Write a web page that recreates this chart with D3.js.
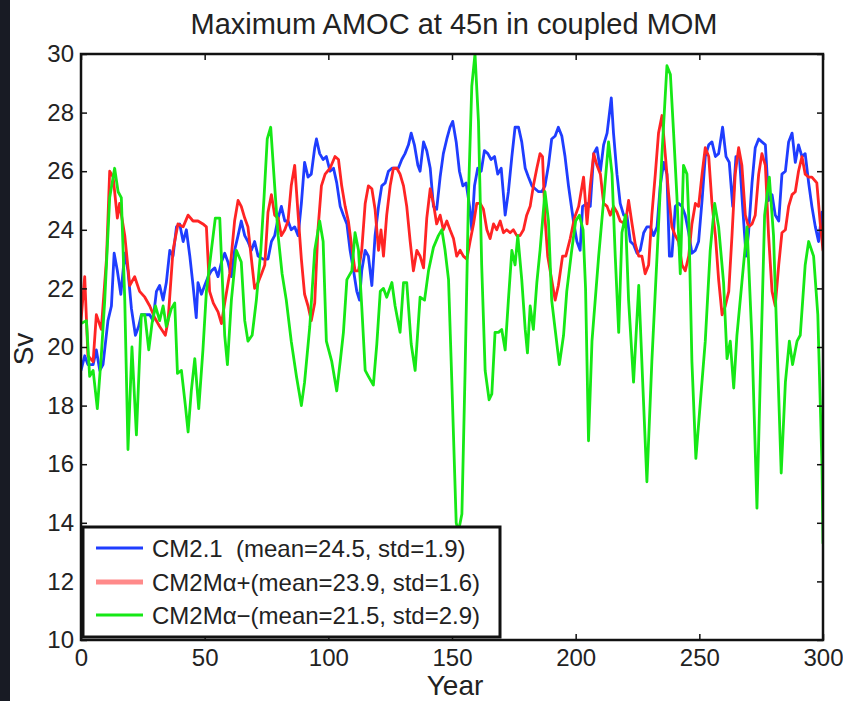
<!DOCTYPE html>
<html>
<head>
<meta charset="utf-8">
<script src="https://cdn.jsdelivr.net/npm/d3@7"></script>
<style>
  html, body { margin: 0; padding: 0; background: #ffffff; }
  svg { display: block; }
  text { font-family: "Liberation Sans", Arial, Helvetica, sans-serif; fill: #222; }
</style>
</head>
<body>
<svg id="chart" width="843" height="701"></svg>
<script>
// Maximum AMOC at 45N, annual values [year, Sv]
const cm21 = [
  [0,19.2],[1.5,19.7],[2.8,19.4],[4.9,19.4],[6.2,19.9],[7.6,19.2],[8.9,19.4],[10.9,20.9],[12.3,21.4],[13.4,23.2],
  [14.7,22.6],[16.1,21.8],[17.7,23.2],[19,22.6],[20.4,21.3],[22,20.4],[23.3,20.7],[24.4,21.1],[25.8,21.1],[27.8,21.1],
  [29.1,20.9],[30.5,21.9],[31.8,22.1],[33.2,21.6],[34.5,22.2],[35.9,23.3],[37.2,23.1],[38.6,24.1],[39.9,24.2],[41.3,23.6],
  [42.6,24.0],[44,23.1],[45.3,22.1],[46.6,21.0],[47.3,22.2],[48.7,21.8],[50,22.1],[51.4,22.4],[52.7,22.6],[54.1,22.7],
  [55.4,22.4],[56.8,22.9],[58.1,23.2],[59.4,22.9],[60.8,22.4],[62.1,23.3],[63.5,23.8],[64.8,24.3],[66.2,23.8],[67.5,23.6],
  [68.9,23.3],[70.2,23.6],[71.6,23.1],[73.6,23.0],[75.6,23.0],[77,23.6],[78.3,23.8],[79.7,24.4],[81,24.8],[82.4,24.3],
  [83.7,24.3],[85,24.0],[86.4,24.1],[87.8,23.8],[89.1,24.9],[90.4,26.3],[91.8,25.8],[93.1,25.9],[94.5,26.8],[95.2,27.1],
  [96.5,26.6],[97.9,26.4],[99.2,26.5],[100.7,26.0],[102.1,26.1],[103.4,25.6],[104.8,24.8],[106.1,24.5],[107.5,24.2],[108.8,23.3],
  [110.2,22.6],[111.5,21.9],[112.6,21.6],[113.5,22.6],[114.9,23.3],[116.2,23.1],[117.6,22.1],[118.9,23.8],[120.3,24.8],[121.6,25.5],
  [123,25.6],[124.3,26.0],[125.7,26.1],[127,26.1],[128.3,26.1],[129.7,26.4],[131,26.6],[132.4,26.9],[133.5,27.3],[134.8,26.9],
  [136.2,26.2],[137.1,26.0],[138.5,27.0],[139.8,26.7],[141.2,26.1],[142.5,24.8],[143.8,24.7],[145.2,25.8],[146.5,26.6],[147.9,27.1],
  [149.2,27.5],[150.3,27.7],[151.7,27.0],[153,26.0],[154.4,25.5],[155.7,25.6],[157.1,24.8],[158,24.0],[159.1,25.5],[160.4,26.1],
  [161.8,26.0],[163.1,26.7],[164.5,26.6],[165.8,26.4],[167.2,26.5],[168.5,25.9],[169.9,26.1],[171.5,24.5],[172.8,25.3],[174.2,26.5],
  [175.5,27.5],[176.9,27.5],[178.2,27.0],[179.6,26.1],[180.9,25.8],[182.3,25.5],[183.6,25.4],[185,25.3],[186.3,25.3],[187.6,25.5],
  [189,26.2],[190.3,27.1],[191.7,27.2],[193,27.5],[194.4,27.2],[195.7,26.5],[197.1,25.5],[199.1,24.3],[200.5,23.6],[201.8,23.3],
  [202.8,24.8],[204.6,24.9],[205.9,24.8],[207.3,26.6],[208.6,26.8],[210,26.0],[211.3,26.9],[212.7,27.3],[214.4,28.5],[215.3,27.3],
  [216.7,25.9],[218,24.9],[219.4,24.5],[220.7,24.5],[222.1,23.6],[223.4,23.5],[224.8,23.2],[226.1,23.3],[227.5,23.9],[228.8,24.1],
  [230.2,24.1],[231.5,23.8],[232.9,24.1],[234.2,25.5],[235.6,26.3],[236.9,25.9],[237.9,23.1],[238.9,23.1],[240.3,24.8],[241.6,24.9],
  [243,24.8],[244.3,24.5],[245.7,23.9],[247,23.2],[248.4,23.3],[249.7,23.6],[251.1,25.0],[252.4,26.5],[253.8,26.9],[255.1,27.0],
  [256.5,26.5],[257.8,26.6],[259.4,27.5],[260.8,26.5],[262.1,26.3],[263.5,24.8],[264.8,26.5],[266.2,26.5],[267.5,24.8],[268.9,23.1],
  [269.9,23.9],[271.3,25.6],[272.6,26.8],[274,27.1],[275.3,27.0],[276.7,26.9],[278,25.0],[279.4,25.2],[280.7,24.5],[282.1,24.3],
  [283.4,25.9],[284.8,26.0],[286.1,27.0],[287.5,27.3],[288.8,26.3],[290.1,26.9],[291.5,26.5],[292.8,26.6],[294.2,25.6],[295.5,24.8],
  [296.9,24.1],[298.2,23.6],[299.6,24.6],[300,24.0]
];

const cm2mPlus = [
  [0,20.9],[1.5,22.4],[2.8,19.7],[4.9,19.5],[6.2,21.1],[8.2,20.6],[10.3,23.0],[11.6,26.0],[13,25.8],[14.7,24.4],
  [15.6,24.9],[17.7,23.8],[19.7,22.1],[21.7,22.4],[23.7,21.9],[25.8,21.7],[27.8,21.4],[29.8,21.0],[31.8,20.7],[34.1,20.4],
  [35.2,20.9],[37.2,23.3],[39.2,24.2],[41.3,24.1],[43.3,24.5],[45.3,24.3],[47.3,24.3],[49.3,24.2],[50.7,24.1],[52,21.9],
  [53.5,21.5],[55.4,21.2],[56.8,20.8],[58.1,21.5],[60.1,22.5],[62.1,24.3],[63.5,25.0],[64.8,24.8],[66.2,24.4],[67.5,24.1],
  [68.9,23.0],[70.2,22.0],[71.6,22.2],[73,22.5],[74.3,22.8],[75.6,24.6],[77,25.2],[78.3,24.5],[79.7,24.4],[81,23.8],
  [82.4,24.0],[83.7,24.3],[85,25.5],[86.4,26.2],[87.8,24.5],[89.1,23.0],[90.4,21.8],[91.8,21.4],[93.1,20.9],[94.5,21.5],
  [95.8,24.0],[97.2,25.5],[98.7,25.9],[100.7,26.1],[102.7,26.5],[104.1,26.4],[105.4,25.5],[106.8,24.8],[108.1,24.3],[109.5,23.4],
  [110.8,22.6],[112.2,22.6],[113.5,23.3],[114.9,24.9],[116.2,25.5],[117.6,25.4],[118.9,24.7],[120.3,23.3],[121.3,24.0],[122.3,23.1],
  [123.6,24.5],[125,25.5],[126.3,26.1],[127.7,26.1],[129,25.9],[130.4,25.5],[131.7,24.8],[133.1,23.6],[134.4,22.6],[135.8,23.3],
  [137.1,23.1],[138.5,22.7],[139.8,24.4],[141.2,25.4],[142.5,24.9],[143.8,24.2],[145.2,24.5],[146.5,24.0],[147.9,24.3],[149.2,24.0],
  [150.6,23.7],[151.9,23.1],[153.3,23.3],[154.6,23.1],[156,23.0],[157.3,23.6],[158.7,24.2],[160,24.9],[161.4,24.9],[162.7,24.7],
  [164.1,24.0],[165.4,23.7],[166.8,24.2],[168.1,24.0],[169.5,24.3],[170.8,23.9],[172.1,24.0],[173.5,23.9],[174.8,24.0],[176.2,23.8],
  [177.5,23.8],[178.9,24.0],[180.2,24.5],[181.6,24.8],[182.9,25.5],[184.3,26.1],[185.6,26.6],[186.6,26.5],[187.6,24.4],[188.7,23.1],
  [190.3,22.3],[191.7,21.6],[193,22.1],[194.7,23.1],[196,23.1],[197.8,23.7],[199.5,24.4],[201.2,24.8],[203.2,25.8],[204.6,24.2],
  [205.9,25.5],[207.3,26.6],[208.6,26.2],[210,25.9],[211.3,24.9],[212.7,24.8],[214,24.5],[215.3,24.8],[216.7,24.6],[218,24.3],
  [220.1,24.2],[221.4,25.0],[222.8,24.2],[224.1,23.5],[225.5,23.1],[226.8,23.1],[228.1,22.5],[229.5,22.8],[230.8,24.5],[232.2,25.9],
  [233.5,27.3],[234.9,27.9],[236.2,26.6],[237.6,25.2],[238.9,24.1],[240.3,23.8],[241.6,23.6],[243,22.8],[244.3,22.6],[245.7,23.1],
  [247,24.2],[248.4,24.9],[249.7,24.8],[251.1,25.9],[252.4,26.8],[253.8,26.5],[255.1,24.9],[256.5,23.8],[257.8,22.3],[259.2,21.1],
  [260.5,21.4],[261.9,21.9],[263.2,23.8],[264.5,25.9],[265.9,26.8],[267.2,26.2],[268.6,24.5],[269.9,24.1],[271.3,24.2],[272.6,24.5],
  [274,25.9],[275.3,26.6],[276.7,26.2],[278,23.8],[279.4,21.9],[280.7,21.4],[282.1,22.8],[283.4,23.9],[284.8,24.0],[286.1,24.8],
  [287.5,25.2],[288.8,25.3],[290.1,26.0],[291.5,26.5],[292.8,25.9],[294.2,25.8],[295.5,25.8],[297.5,25.6],[298.9,24.2],[300,23.3]
];

const cm2mMinus = [
  [0,20.8],[2.2,20.9],[3.5,19.0],[4.9,19.2],[6.6,17.9],[8.2,19.7],[9.6,21.6],[11.6,25.1],[13.6,26.1],[15,25.3],
  [16.3,25.1],[17.7,21.6],[19,16.5],[20.6,20.0],[22.4,17.0],[24.4,21.1],[25.8,21.1],[27.4,19.9],[28.7,20.8],[30.1,21.4],
  [31.8,20.9],[33.2,21.4],[34.5,20.7],[36.5,21.3],[37.9,21.5],[39,19.1],[40.6,19.2],[42.2,18.0],[43.3,17.1],[44.6,18.5],
  [46,19.6],[47.6,17.9],[49.3,19.9],[50.7,21.9],[52.7,23.3],[54.3,24.4],[56.1,24.4],[58.1,20.4],[59.2,19.4],[60.8,21.6],
  [62.8,23.3],[64.8,22.9],[66.2,20.9],[67.5,20.2],[69.2,20.4],[70.9,21.6],[72.7,23.3],[74,25.1],[75.3,27.1],[76.7,27.5],
  [78.3,25.5],[79.7,23.8],[81.3,22.5],[83,21.6],[85,20.2],[87.1,19.0],[89.1,18.0],[90.4,18.8],[92.5,20.7],[94.5,23.3],
  [96.5,24.3],[97.9,23.6],[99.2,20.2],[101.4,19.5],[103.4,18.5],[104.8,19.5],[106.1,20.5],[107.5,22.3],[109.5,22.6],[110.8,23.9],
  [112.2,23.3],[113.5,21.4],[114.9,19.2],[116.2,19.0],[118.2,18.7],[119.6,20.1],[121,21.9],[122.3,22.0],[123.6,21.7],[125.7,22.2],
  [127,21.4],[129,20.5],[130.4,22.2],[131.7,22.2],[133.5,20.1],[135.1,19.2],[137.1,21.7],[138.9,21.6],[140.5,22.6],[142.5,23.4],
  [144.5,23.8],[145.9,24.0],[147.2,23.3],[148.6,22.3],[149.9,18.9],[151.7,14.0],[152.6,13.7],[154,14.3],[155.3,19.2],[156.7,25.3],
  [158,28.9],[159.3,30.0],[160.7,27.7],[162,22.8],[163.4,19.2],[165,18.2],[166.1,18.4],[167.4,20.5],[168.8,20.5],[170.1,20.6],
  [171.5,19.9],[172.8,21.6],[174.2,23.3],[175.5,22.8],[176.6,23.8],[178.2,22.3],[179.6,20.6],[180.5,19.8],[181.6,21.4],[182.9,20.6],
  [184.3,22.2],[185.6,23.3],[187.6,25.3],[189,24.3],[190.3,21.6],[191.7,20.6],[193.4,19.4],[195.1,20.4],[196.4,21.9],[198.4,23.3],
  [200,24.3],[201.5,24.5],[203,24.0],[204,22.0],[205.2,16.8],[206.6,20.2],[209.3,23.1],[211.3,25.0],[213.3,27.0],[214.7,25.9],
  [216,23.1],[217.4,20.5],[218.7,23.9],[220.1,24.5],[221.4,21.6],[223.4,18.8],[225.5,22.1],[227.1,18.8],[228.8,15.4],[230.8,19.5],
  [232.9,23.1],[234.9,26.6],[236.9,29.6],[238.3,29.3],[239.6,27.3],[240.9,25.2],[242.3,22.5],[243.6,26.2],[245,25.9],[245.7,24.5],
  [247,19.5],[248.6,16.2],[250.4,18.1],[252.4,20.2],[254.4,23.3],[256.2,24.9],[257.8,24.1],[259.8,22.2],[261.2,19.6],[262.5,20.2],
  [263.9,18.6],[265.2,20.4],[267.2,22.2],[269.3,24.1],[271.3,20.2],[273.3,14.5],[274.6,18.8],[276.4,24.5],[278.3,25.8],[280,23.8],
  [281.8,19.1],[283.1,15.7],[284.8,18.8],[286.4,20.2],[287.7,19.4],[289.5,20.2],[290.8,20.4],[292.8,22.8],[294.2,23.6],[296.2,23.1],
  [297.9,21.1],[299.6,15.9],[300,13.3]
];

const seriesNames = ["CM2.1  (mean=24.5, std=1.9)", "CM2M\u03b1+(mean=23.9, std=1.6)", "CM2M\u03b1\u2212(mean=21.5, std=2.9)"];
const seriesColors = ["#1f3dff", "#ff2424", "#16e816"];
const legendSwatchColors = ["#1f3dff", "#ff8a8a", "#16e816"];
const seriesData = [cm21, cm2mPlus, cm2mMinus];

const xTicks = [0, 50, 100, 150, 200, 250, 300];
const yTicks = [10, 12, 14, 16, 18, 20, 22, 24, 26, 28, 30];

const titleText = "Maximum AMOC at 45n in coupled MOM";
const xLabel = "Year";
const yLabel = "Sv";

// ---- layout ----
const svg = d3.select("#chart");
const W = 843, H = 701;
const plot = { left: 81, right: 823, top: 54, bottom: 640 };

// dark strip down the left edge of the figure
svg.append("rect").attr("x", 0).attr("y", 0).attr("width", 10).attr("height", H).attr("fill", "#181b24");

const x = d3.scaleLinear().domain([0, 300]).range([plot.left, plot.right]);
const y = d3.scaleLinear().domain([10, 30]).range([plot.bottom, plot.top]);

svg.append("defs").append("clipPath").attr("id", "plotclip")
  .append("rect")
  .attr("x", plot.left).attr("y", plot.top - 1)
  .attr("width", plot.right - plot.left).attr("height", plot.bottom - plot.top + 2);

// series lines
const line = d3.line().x(d => x(d[0])).y(d => y(d[1]));
const lines = svg.append("g").attr("clip-path", "url(#plotclip)");
seriesData.forEach((s, i) => {
  lines.append("path")
    .datum(s)
    .attr("d", line)
    .attr("fill", "none")
    .attr("stroke", seriesColors[i])
    .attr("stroke-width", 2.8)
    .attr("stroke-linejoin", "round")
    .attr("stroke-linecap", "round");
});

// axes with inward ticks on all four sides
const tickFont = 24;
const styleAxis = g => {
  g.select(".domain").remove();
  g.selectAll(".tick line").attr("stroke", "#111").attr("stroke-width", 1.5);
  g.selectAll(".tick text").attr("font-size", tickFont).attr("fill", "#2a2a3a")
    .attr("font-family", '"Liberation Sans", Arial, Helvetica, sans-serif');
};

svg.append("g").attr("transform", `translate(${plot.left},0)`)
  .call(d3.axisLeft(y).tickValues(yTicks).tickSize(-6).tickPadding(7).tickFormat(d3.format("d")))
  .call(styleAxis);
svg.append("g").attr("transform", `translate(${plot.right},0)`)
  .call(d3.axisRight(y).tickValues(yTicks).tickSize(-6).tickFormat(""))
  .call(styleAxis);
svg.append("g").attr("transform", `translate(0,${plot.bottom})`)
  .call(d3.axisBottom(x).tickValues(xTicks).tickSize(-6).tickPadding(9).tickFormat(d3.format("d")))
  .call(styleAxis);
svg.append("g").attr("transform", `translate(0,${plot.top})`)
  .call(d3.axisTop(x).tickValues(xTicks).tickSize(-6).tickFormat(""))
  .call(styleAxis);

// frame
svg.append("rect")
  .attr("x", plot.left).attr("y", plot.top)
  .attr("width", plot.right - plot.left).attr("height", plot.bottom - plot.top)
  .attr("fill", "none").attr("stroke", "#111").attr("stroke-width", 2.5);

// title and axis labels
svg.append("text").attr("x", 454).attr("y", 34).attr("text-anchor", "middle")
  .attr("font-size", 29).text(titleText);
svg.append("text").attr("x", 455).attr("y", 695).attr("text-anchor", "middle")
  .attr("font-size", 28).text(xLabel);
svg.append("text").attr("transform", "translate(33,349) rotate(-90)").attr("text-anchor", "middle")
  .attr("font-size", 28).text(yLabel);

// legend
const leg = { x: 83, y: 527, w: 417, h: 110 };
svg.append("rect").attr("x", leg.x).attr("y", leg.y).attr("width", leg.w).attr("height", leg.h)
  .attr("fill", "#fff").attr("stroke", "#111").attr("stroke-width", 3);
const rowY = [548, 582, 615];
seriesNames.forEach((name, i) => {
  svg.append("line").attr("x1", 96).attr("x2", 143).attr("y1", rowY[i]).attr("y2", rowY[i])
    .attr("stroke", legendSwatchColors[i]).attr("stroke-width", i === 1 ? 5 : 2.8);
  svg.append("text").attr("x", 152).attr("y", rowY[i]).attr("dy", "0.36em")
    .attr("font-size", 24).attr("fill", "#2a2340")
    .style("white-space", "pre").text(name);
});
</script>
</body>
</html>
